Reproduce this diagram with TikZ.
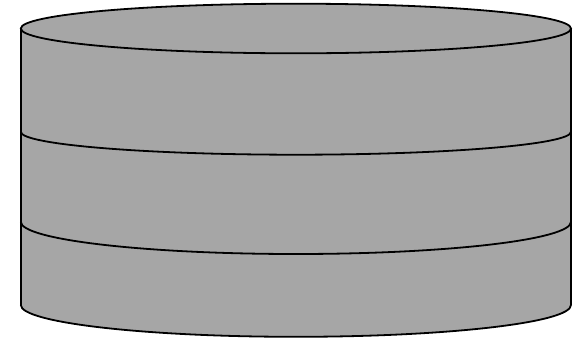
\documentclass[tikz,border=0pt]{standalone}
\definecolor{cylfill}{HTML}{A6A6A6}
\begin{document}
\begin{tikzpicture}[x=1pt,y=-1pt,
  edge/.style={draw=black,line width=1.8pt},
  body/.style={fill=cylfill}]
\useasboundingbox (0,0) rectangle (575,338);
% body fill
\fill[body] (20.8,28.5) -- (20.8,305) arc[start angle=180,end angle=360,x radius=275.1,y radius=-31.8]
  -- (571,28.5) arc[start angle=0,end angle=180,x radius=275.1,y radius=-24.8] -- cycle;
% sides
\draw[edge] (20.8,28.5) -- (20.8,305);
\draw[edge] (571,28.5) -- (571,305);
% top ellipse
\draw[edge] (295.9,28.5) ellipse[x radius=275.1,y radius=24.8];
% middle lines
\draw[edge] (20.8,131.8) arc[start angle=180,end angle=360,x radius=275.1,y radius=-22.9];
\draw[edge] (20.8,221.8) arc[start angle=180,end angle=360,x radius=275.1,y radius=-32.2];
% bottom
\draw[edge] (20.8,305) arc[start angle=180,end angle=360,x radius=275.1,y radius=-31.8];
\end{tikzpicture}
\end{document}
